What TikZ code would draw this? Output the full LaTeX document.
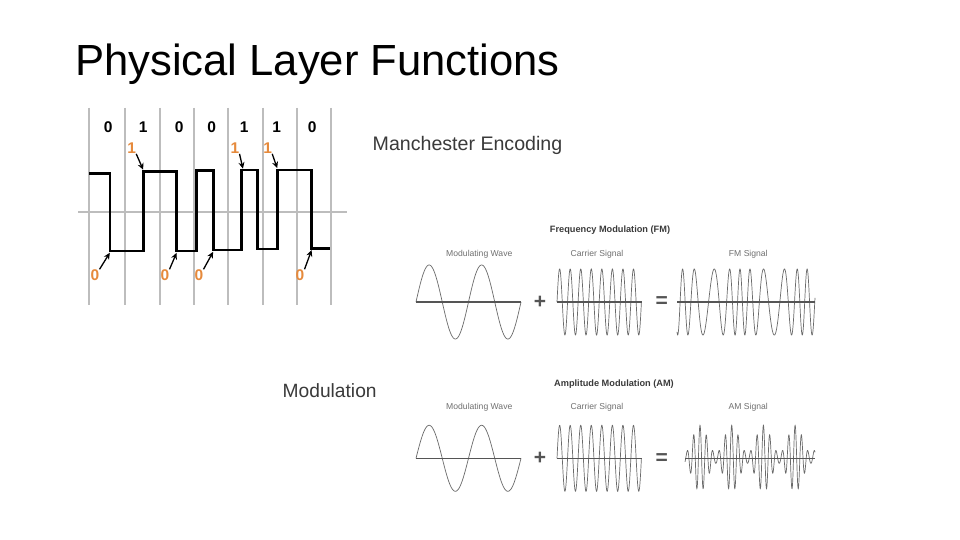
\documentclass[tikz,border=0pt]{standalone}
\usepackage{fontspec}
\setmainfont{Liberation Sans}
\usetikzlibrary{arrows.meta}
\definecolor{orangec}{HTML}{E68A3C}
\definecolor{gridc}{HTML}{BDBDBD}
\definecolor{textc}{HTML}{3A3A3A}
\definecolor{wavec}{HTML}{6A6A6A}
\definecolor{axisc}{HTML}{555555}
\definecolor{lblc}{HTML}{707070}
\tikzset{
  gridline/.style={draw=gridc, line width=2pt},
  sig/.style={draw=black, line width=2.7pt, line join=miter},
  bitlbl/.style={font=\fontsize{15.5}{18}\selectfont\bfseries, inner sep=0pt},
  olbl/.style={font=\fontsize{15.5}{18}\selectfont\bfseries, text=orangec, inner sep=0pt},
  arr/.style={draw=black, line width=1.3pt, -{Stealth[length=6.5pt,width=6pt]}, shorten >=0.3pt},
  wave/.style={draw=wavec, line width=0.7pt},
  axisline/.style={draw=axisc, line width=1.6pt},
  ptitle/.style={font=\fontsize{9.2}{11}\selectfont\bfseries, text=textc, inner sep=0pt, anchor=base},
  plbl/.style={font=\fontsize{8.6}{10}\selectfont, text=lblc, inner sep=0pt, anchor=base},
  opsym/.style={font=\fontsize{21}{24}\selectfont\bfseries, text=axisc, inner sep=0pt},
}
\begin{document}
\begin{tikzpicture}[x=1pt,y=-1pt]
\useasboundingbox (0,0) rectangle (960,540);
\fill[white] (0,0) rectangle (960,540);

% Title
\node[anchor=base west, inner sep=0pt, font=\fontsize{43.6}{50}\selectfont, text=black] (title) at (75,76) {Physical Layer Functions};
\node[anchor=base west, inner sep=0pt, font=\fontsize{19.6}{22}\selectfont, text=textc] (manch) at (372.5,151) {Manchester Encoding};
\node[anchor=base west, inner sep=0pt, font=\fontsize{19.2}{22}\selectfont, text=textc] (modu) at (282.5,397.5) {Modulation};

% Manchester grid
\foreach \gx in {89,125,160,194,228.3,262.7,296.7,331}
  \draw[gridline] (\gx,108) -- (\gx,305);
\draw[gridline] (78,212.3) -- (347,212.3);

% Signal
\draw[sig] (89,173.3) -- (110,173.3) -- (110,251) -- (143.3,251) -- (143.3,171.7)
  -- (176.7,171.7) -- (176.7,251) -- (196.7,251) -- (196.7,170.5) -- (213.3,170.5)
  -- (213.3,250) -- (241.7,250) -- (241.7,170) -- (257.7,170) -- (257.7,249)
  -- (277.3,249) -- (277.3,170) -- (311.7,170) -- (311.7,248.3) -- (330,248.3);

% corner coordinates for arrows
\coordinate (c1) at (143.3,170);
\coordinate (c2) at (243,169);
\coordinate (c3) at (277.3,168.5);
\coordinate (d1) at (110,252.5);
\coordinate (d2) at (176.7,252.5);
\coordinate (d3) at (213.3,251.5);
\coordinate (d4) at (311.7,249.8);

% bit labels
\node[bitlbl] (b1) at (108.3,126.7) {0};
\node[bitlbl] (b2) at (143.3,126.7) {1};
\node[bitlbl] (b3) at (179.3,126.7) {0};
\node[bitlbl] (b4) at (211.7,126.7) {0};
\node[bitlbl] (b5) at (244.3,126.7) {1};
\node[bitlbl] (b6) at (276.7,126.7) {1};
\node[bitlbl] (b7) at (312.3,126.7) {0};

% orange labels
\node[olbl] (o1) at (131.7,148.3) {1};
\node[olbl] (o2) at (235,148.3) {1};
\node[olbl] (o3) at (267.7,148.3) {1};
\node[olbl] (z1) at (95,275) {0};
\node[olbl] (z2) at (165,275) {0};
\node[olbl] (z3) at (199,275) {0};
\node[olbl] (z4) at (300,275) {0};

\draw[arr] (o1.south east) -- (c1);
\draw[arr] (o2.south east) -- (c2);
\draw[arr] (o3.south east) -- (c3);
\draw[arr] (z1.north east) -- (d1);
\draw[arr] (z2.north east) -- (d2);
\draw[arr] (z3.north east) -- (d3);
\draw[arr] (z4.north east) -- (d4);

% ---------- FM panel ----------
\node[ptitle] (fmt) at (610,232.3) {Frequency Modulation (FM)};
\node[plbl] (fm1) at (479.3,256.7) {Modulating Wave};
\node[plbl] (fm2) at (597,256.7) {Carrier Signal};
\node[plbl] (fm3) at (748.3,256.7) {FM Signal};

\draw[wave] plot[domain=416:521, samples=200] (\x,{302-37*sin(6.857143*(\x-416))});
\draw[wave] plot[domain=557:641.4, samples=400] (\x,{302-33*sin(34.1232*(\x-557))});
\draw[wave] plot[domain=677:815, samples=700] (\x,{302-33*sin(26.3*(\x-677)+112*sin(5.625*(\x-677))-115)});
\draw[axisline] (416,302) -- (521,302);
\draw[axisline] (557,302) -- (642,302);
\draw[axisline] (677,302) -- (815,302);
\node[opsym] (fmplus) at (540,302.5) {+};
\node[opsym] (fmeq) at (661.7,302.5) {=};

% ---------- AM panel ----------
\node[ptitle] (amt) at (614,386.7) {Amplitude Modulation (AM)};
\node[plbl] (am1) at (479.3,409.3) {Modulating Wave};
\node[plbl] (am2) at (597,409.3) {Carrier Signal};
\node[plbl] (am3) at (748.3,409.3) {AM Signal};

\draw[wave] plot[domain=416:521, samples=200] (\x,{458.3-33*sin(6.857143*(\x-416))});
\draw[wave] plot[domain=557:641.4, samples=400] (\x,{458.3-33*sin(34.1232*(\x-557))});
\draw[wave] plot[domain=685:815, samples=800] (\x,{458.3-(19+14*cos(11.3565*(\x-700)))*cos(56.7823*(\x-700))});
\draw[axisline] (416,458.3) -- (521,458.3);
\draw[axisline] (557,458.3) -- (642,458.3);
\draw[axisline] (685,458.3) -- (815,458.3);
\node[opsym] (amplus) at (540,458.8) {+};
\node[opsym] (ameq) at (661.7,458.8) {=};
\end{tikzpicture}
\end{document}
